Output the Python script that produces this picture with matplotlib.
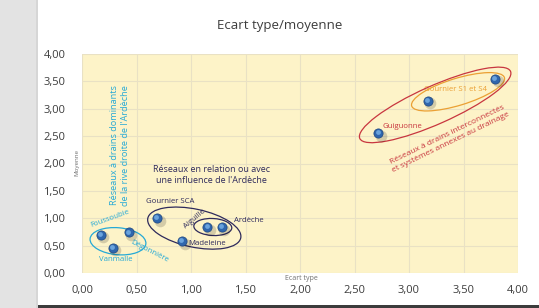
import matplotlib
matplotlib.use('Agg')
import matplotlib.pyplot as plt
from matplotlib.patches import Ellipse, Rectangle
from matplotlib import transforms

plt.rcParams['font.family'] = ['Open Sans', 'DejaVu Sans']

# données
names = ['Foussoubie', 'Vanmalle', 'Dégonnière', 'Gournier SCA', 'Madeleine',
         'Aiguille', 'Ardèche', 'Guiguonne', 'Gournier S1', 'Gournier S4']
ecart_type = [0.17, 0.28, 0.43, 0.69, 0.92, 1.15, 1.28, 2.72, 3.17, 3.79]
moyenne = [0.70, 0.46, 0.74, 1.00, 0.58, 0.84, 0.84, 2.55, 3.15, 3.55]
ticks = [0.0, 0.5, 1.0, 1.5, 2.0, 2.5, 3.0, 3.5, 4.0]
tick_labels = ['0,00', '0,50', '1,00', '1,50', '2,00', '2,50', '3,00', '3,50', '4,00']

CYAN = '#25a9d6'
NAVY = '#2e2a5c'
RED = '#c8363f'
ORANGE = '#eba034'


def offset(fig, dx, dy):
    return transforms.ScaledTranslation(dx / 72.0, dy / 72.0, fig.dpi_scale_trans)


def ellipse(ax, fig, cx, cy, w_px, h_px, angle, color):
    # taille en pixels, centre en coordonnées des données
    tr = fig.dpi_scale_trans + transforms.ScaledTranslation(cx, cy, ax.transData)
    e = Ellipse((0, 0), w_px / 100.0, h_px / 100.0, angle=angle, transform=tr,
                fill=False, edgecolor=color, lw=0.9, zorder=4)
    ax.add_patch(e)


def main():
    fig = plt.figure(figsize=(5.39, 3.08), dpi=100)
    fig.patch.set_facecolor('white')
    # bande grise à gauche et ombre du cadre
    fig.add_artist(Rectangle((0, 0), 38 / 539.0, 1, transform=fig.transFigure,
                             facecolor='#e3e3e3', edgecolor='none', zorder=-5))
    fig.add_artist(Rectangle((36 / 539.0, 0), 2 / 539.0, 1, transform=fig.transFigure,
                             facecolor='#d6d6d6', edgecolor='none', zorder=-5))
    fig.add_artist(Rectangle((38 / 539.0, 0), 1, 3 / 308.0, transform=fig.transFigure,
                             facecolor='#3c3c3c', edgecolor='none', zorder=-5))

    ax = fig.add_axes([82 / 539.0, 1 - 273 / 308.0, 436 / 539.0, 219 / 308.0])
    ax.set_facecolor('#fdf3c8')
    ax.set_xlim(0, 4)
    ax.set_ylim(0, 4)
    ax.set_xticks(ticks)
    ax.set_yticks(ticks)
    ax.set_xticklabels(tick_labels)
    ax.set_yticklabels(tick_labels)
    ax.tick_params(length=0, labelsize=8, colors='#3c3c3c', pad=9)
    ax.tick_params(axis='y', pad=12)
    for s in ax.spines.values():
        s.set_visible(False)
    ax.grid(True, color='#e9e1c4', lw=0.8)
    ax.set_axisbelow(True)

    fig.text(0.519, 0.916, 'Ecart type/moyenne', ha='center', va='center',
             fontsize=9.5, color='#3c3c3c')
    fig.text(0.143, 0.474, 'Moyenne', ha='center', va='center', rotation=90,
             fontsize=4.5, color='#707070')
    fig.text(0.560, 0.097, 'Ecart type', ha='center', va='center',
             fontsize=5, color='#707070')

    # boules bleues : ombre, corps, reflet
    ax.scatter(ecart_type, moyenne, s=70, color='#000000', alpha=0.16, lw=0,
               transform=ax.transData + offset(fig, 1.8, -1.8), zorder=5)
    ax.scatter(ecart_type, moyenne, s=44, color='#2f66ad', edgecolor='#1d4680',
               lw=0.5, zorder=6)
    ax.scatter(ecart_type, moyenne, s=12, color='#6aa3dd', lw=0,
               transform=ax.transData + offset(fig, -0.6, 0.7), zorder=7)

    ellipse(ax, fig, 0.33, 0.58, 56, 27, -5, CYAN)
    ellipse(ax, fig, 1.03, 0.82, 95, 38, -12, NAVY)
    ellipse(ax, fig, 1.20, 0.84, 38, 17, -3, NAVY)
    ellipse(ax, fig, 3.24, 3.07, 165, 38, 24, RED)
    ellipse(ax, fig, 3.45, 3.31, 97, 27, 17, ORANGE)

    ax.text(0.35, 2.33, "Réseaux à drains dominants\nde la rive droite de l'Ardèche",
            rotation=90, ha='center', va='center', fontsize=6.6, color=CYAN,
            linespacing=1.3)
    ax.text(1.19, 1.79, "Réseaux en relation ou avec\nune influence de l'Ardèche",
            ha='center', va='center', fontsize=6.5, color=NAVY, linespacing=1.4)
    ax.text(3.37, 2.45, 'Réseaux à drains interconnectés\net systèmes annexes au drainage',
            rotation=26, rotation_mode='anchor', ha='center', va='center',
            fontsize=6, color=RED, linespacing=1.3)

    small = dict(ha='center', va='center', fontsize=5.6)
    ax.text(0.26, 1.00, 'Foussoubie', rotation=20, color=CYAN, **small)
    ax.text(0.31, 0.24, 'Vanmalle', color=CYAN, **small)
    ax.text(0.62, 0.40, 'Dégonnière', rotation=-27, color=CYAN, **small)
    ax.text(0.81, 1.30, 'Gournier SCA', color=NAVY, **small)
    ax.text(1.03, 0.99, 'Aiguille', rotation=40, color=NAVY, **small)
    ax.text(1.53, 0.95, 'Ardèche', color=NAVY, **small)
    ax.text(1.15, 0.53, 'Madeleine', color=NAVY, **small)
    ax.text(2.94, 2.68, 'Guiguonne', color=RED, **small)
    ax.text(3.43, 3.36, 'Gournier S1 et S4', color=ORANGE, **small)

    fig.savefig('out.png', dpi=100)


if __name__ == '__main__':
    main()
